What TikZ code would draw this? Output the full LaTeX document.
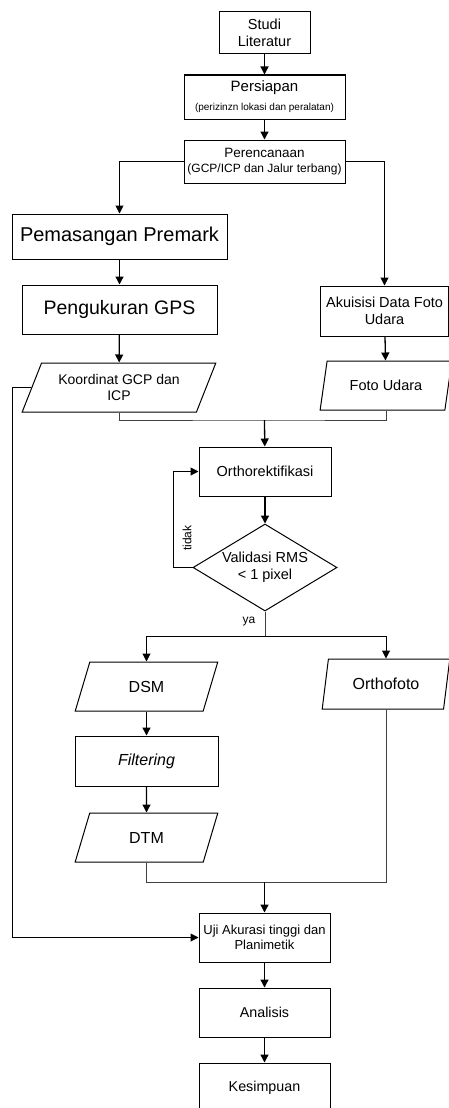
\documentclass[tikz,border=0pt]{standalone}
\usepackage{fontspec}
\setmainfont{Liberation Sans}
\usetikzlibrary{shapes.geometric,arrows.meta}
\newcommand{\fsz}[2]{\fontsize{#1}{#2}\selectfont}

\begin{document}
\begin{tikzpicture}[x=1pt, y=-1pt,
  box/.style={draw, line width=1pt, inner sep=0pt, align=center},
  data/.style 2 args={trapezium, trapezium left angle=#1, trapezium right angle=#2,
    trapezium stretches=true, draw, line width=1pt, inner sep=0pt, align=center},
  decision/.style={diamond, draw, line width=1pt, inner sep=0pt, aspect=1.66, align=center},
  arr/.style={-{Triangle[length=8pt,width=8pt]}, line width=1.3pt},
  link/.style={line width=1pt, draw=black!75},
  lbl/.style={font={\fsz{12}{14}}, inner sep=0pt}
]
\path[fill=white, use as bounding box] (0,0) rectangle (449,1108);

\node[box, minimum width=91, minimum height=42, font={\fsz{14.5}{17}}] (studi) at (264.5,33) {Studi\\Literatur};
\node[box, minimum width=161, minimum height=44, font={\fsz{15}{19}}] (persiapan) at (264.5,97)
  {Persiapan\\{\fsz{10}{12}(perizinzn lokasi dan peralatan)}};
\node[box, minimum width=161, minimum height=43, font={\fsz{13.5}{15}}] (perenc) at (264.5,161.5)
  {Perencanaan\\{\fsz{12}{14}(GCP/ICP dan Jalur terbang)}};
\node[box, minimum width=215, minimum height=45, font={\fsz{20}{24}}] (pemas) at (119.5,236.5) {Pemasangan Premark};
\node[box, minimum width=195, minimum height=49, font={\fsz{19.5}{23}}] (penguk) at (119.5,309.5) {Pengukuran GPS};
\node[box, minimum width=128, minimum height=50, font={\fsz{14.5}{17}}] (akuisisi) at (384.5,311) {Akuisisi Data Foto\\Udara};
\node[data={60}{120}, minimum width=194, minimum height=49, font={\fsz{14}{16}}] (koord) at (119,387.5) {Koordinat GCP dan\\ICP};
\node[data={68}{112}, minimum width=132, minimum height=49, font={\fsz{14.5}{17}}] (foto) at (386,385.5) {Foto Udara};
\node[box, minimum width=132, minimum height=49, font={\fsz{14.5}{17}}] (orthor) at (265,471.5) {Orthorektifikasi};
\node[decision, minimum width=144, minimum height=87, font={\fsz{14.5}{17}}] (valid) at (265,567.5) {Validasi RMS\\< 1 pixel};
\node[data={68}{112}, minimum width=143, minimum height=49, font={\fsz{16}{19}}] (dsm) at (146.5,686.5) {DSM};
\node[data={73}{107}, minimum width=128, minimum height=50, font={\fsz{16}{19}}] (orthofoto) at (386,684) {Orthofoto};
\node[box, minimum width=143, minimum height=50, font={\fsz{16}{19}}] (filtering) at (146.5,761) {\textit{Filtering}};
\node[data={68}{112}, minimum width=143, minimum height=49, font={\fsz{16}{19}}] (dtm) at (146.5,837.5) {DTM};
\node[box, minimum width=131, minimum height=49, font={\fsz{13}{14.5}}] (uji) at (264.5,937.5) {Uji Akurasi tinggi dan\\Planimetik};
\node[box, minimum width=131, minimum height=49, font={\fsz{14.3}{17}}] (analisis) at (264.5,1012.5) {Analisis};
\node[box, minimum width=131, minimum height=49, font={\fsz{14.3}{17}}] (kesimp) at (264.5,1087.5) {Kesimpuan};

\node[lbl, rotate=90] (tidak) at (187,538) {tidak};
\node[lbl] (ya) at (249,622) {ya};

\coordinate (j1) at (264.5,420);
\coordinate (j2) at (265,636);
\coordinate (j3) at (264.5,882);
\coordinate (c1) at (12,387.5);
\coordinate (c2) at (173,567.5);

\draw[arr] (studi) -- (persiapan);
\draw[arr] (persiapan) -- (perenc);
\draw[arr, line width=1pt] (perenc.west) -| (pemas.north);
\draw[arr, line width=1pt] (perenc.east) -| (akuisisi.north);
\draw[arr] (pemas) -- (penguk);
\draw[arr] (penguk) -- (koord);
\draw[arr] (akuisisi) -- (foto);
\draw[link] (koord.south) |- (j1) -| (foto.south);
\draw[arr] (j1) -- (orthor);
\draw[arr] (orthor) -- (valid);
\draw[arr, line width=1pt] (valid.west) -- (c2) |- (orthor.west);
\draw[link] (valid.south) -- (j2);
\draw[arr, line width=1pt] (j2) -| (dsm.north);
\draw[arr, line width=1pt] (j2) -| (orthofoto.north);
\draw[arr] (dsm) -- (filtering);
\draw[arr] (filtering) -- (dtm);
\draw[link] (dtm.south) |- (j3) -| (orthofoto.south);
\draw[arr] (j3) -- (uji);
\draw[arr, line width=1pt] (koord.left side) -- (c1) |- (uji.west);
\draw[arr] (uji) -- (analisis);
\draw[arr] (analisis) -- (kesimp);
\end{tikzpicture}
\end{document}
